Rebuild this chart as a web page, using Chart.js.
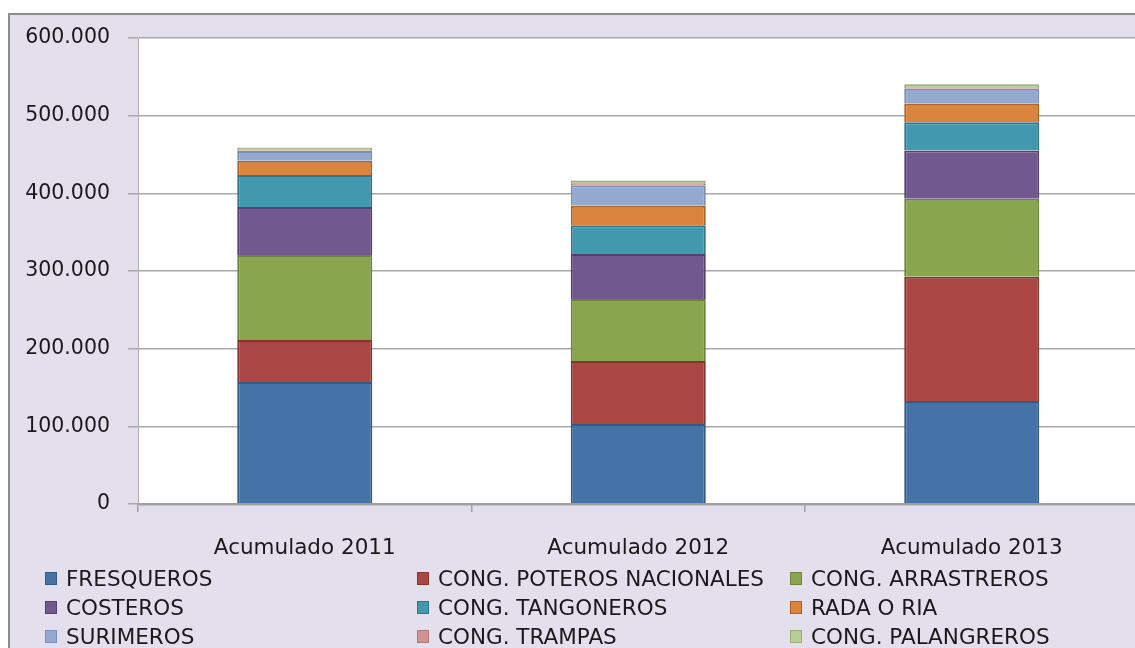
<!DOCTYPE html>
<html>
<head>
<meta charset="utf-8">
<script src="https://cdn.jsdelivr.net/npm/chart.js@4.4.0/dist/chart.umd.min.js"></script>
<style>
  html, body { margin: 0; padding: 0; background: #fff; overflow: hidden; width: 1135px; height: 648px; }
  #frame { position: absolute; left: 8px; top: 13px; width: 1140px; height: 650px;
           background: #E4DFEC; border-left: 2px solid #8C8C8C; border-top: 2px solid #8C8C8C; }
  #wrap { position: absolute; left: 0; top: 0; width: 1140px; height: 648px; }
  #legend { position: absolute; left: 0; top: 0; font-family: "DejaVu Sans", sans-serif; font-size: 21.5px; color: #1a1a1a; }
  .item { position: absolute; display: flex; align-items: center; white-space: nowrap; height: 26px; }
  .box { width: 12px; height: 13px; margin-right: 9px; box-sizing: border-box; border: 1px solid; }
</style>
</head>
<body>
<div id="frame"></div>
<div id="wrap"><canvas id="chart" width="1140" height="648"></canvas></div>
<div id="legend"></div>
<script>
// categories and series (tonnes, cumulative per year)
const categories = ['Acumulado 2011', 'Acumulado 2012', 'Acumulado 2013'];
const fresqueros = [157000, 103000, 132500];
const poteros = [54000, 81000, 160000];
const arrastreros = [109500, 80000, 100500];
const costeros = [62000, 58000, 62000];
const tangoneros = [41000, 37000, 36500];
const radaRia = [18500, 25000, 24000];
const surimeros = [12500, 26500, 19000];
const trampas = [1000, 2500, 1000];
const palangreros = [3500, 3500, 5000];
const yTicks = [0, 100000, 200000, 300000, 400000, 500000, 600000];

const series = [
  { label: 'FRESQUEROS', data: fresqueros, bg: '#4572A7', border: '#345A86' },
  { label: 'CONG. POTEROS NACIONALES', data: poteros, bg: '#AA4643', border: '#843532' },
  { label: 'CONG. ARRASTREROS', data: arrastreros, bg: '#89A54E', border: '#6B843A' },
  { label: 'COSTEROS', data: costeros, bg: '#71588F', border: '#55406E' },
  { label: 'CONG. TANGONEROS', data: tangoneros, bg: '#4198AF', border: '#2F7588' },
  { label: 'RADA O RIA', data: radaRia, bg: '#DB843D', border: '#AD6428' },
  { label: 'SURIMEROS', data: surimeros, bg: '#93A9CF', border: '#7A8FB5' },
  { label: 'CONG. TRAMPAS', data: trampas, bg: '#D19392', border: '#B07877' },
  { label: 'CONG. PALANGREROS', data: palangreros, bg: '#B9CD96', border: '#9AAE78' },
];

function fmt(v) {
  return String(v).replace(/\B(?=(\d{3})+(?!\d))/g, '.');
}

const whiteArea = {
  id: 'whiteArea',
  beforeDraw(chart) {
    const a = chart.chartArea;
    const ctx = chart.ctx;
    ctx.save();
    ctx.fillStyle = '#ffffff';
    ctx.fillRect(a.left, a.top, a.right - a.left, a.bottom - a.top);
    ctx.restore();
  }
};

const ctx = document.getElementById('chart');
const chart = new Chart(ctx, {
  type: 'bar',
  data: {
    labels: categories,
    datasets: series.map(s => ({
      label: s.label,
      data: s.data,
      backgroundColor: s.bg,
      borderColor: s.border,
      borderWidth: 2,
      barPercentage: 0.405,
      categoryPercentage: 1
    }))
  },
  options: {
    responsive: false,
    animation: false,
    layout: { padding: { top: 38, right: 1.5, left: 0, bottom: 0 } },
    plugins: { legend: { display: false }, tooltip: { enabled: false } },
    scales: {
      x: {
        stacked: true,
        afterFit(scale) { scale.height = 144; },
        grid: { offset: true, drawOnChartArea: false, drawTicks: true, tickLength: 8, color: '#A0A0A0', lineWidth: 1.5 },
        border: { color: '#A0A0A0', width: 2.5 },
        ticks: { color: '#1a1a1a', padding: 24, font: { family: 'DejaVu Sans', size: 21.5 } }
      },
      y: {
        stacked: true,
        min: 0,
        max: 600000,
        afterFit(scale) { scale.width = 138; },
        afterBuildTicks(scale) { scale.ticks = yTicks.map(v => ({ value: v })); },
        grid: { color: '#A8A8A8', lineWidth: 1.5, tickLength: 10 },
        border: { color: '#B0B0B0', width: 1 },
        ticks: { color: '#1a1a1a', padding: 18, font: { family: 'DejaVu Sans', size: 20.5 }, callback: v => fmt(v) }
      }
    }
  },
  plugins: [whiteArea]
});

// legend laid out in three columns like the original
const legendEl = document.getElementById('legend');
const colX = [45, 417, 790];
const rowY = [565, 594, 623];
series.forEach((s, i) => {
  const item = document.createElement('div');
  item.className = 'item';
  item.style.left = colX[i % 3] + 'px';
  item.style.top = rowY[Math.floor(i / 3)] + 'px';
  const box = document.createElement('span');
  box.className = 'box';
  box.style.background = s.bg;
  box.style.borderColor = s.border;
  const txt = document.createElement('span');
  txt.textContent = s.label;
  item.appendChild(box);
  item.appendChild(txt);
  legendEl.appendChild(item);
});
</script>
</body>
</html>
